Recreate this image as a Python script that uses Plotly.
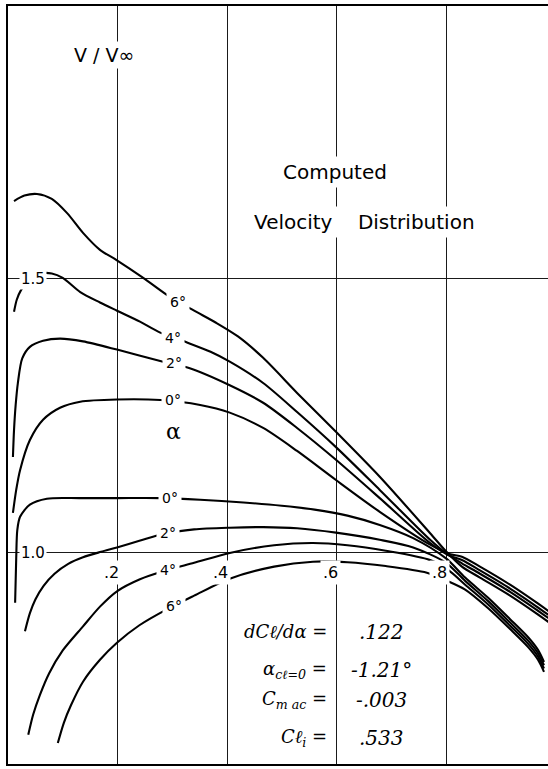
import plotly.graph_objects as go

# ---- data ----
# upper-surface curves, alpha = 6, 4, 2, 0 deg
x_up6 = [0.011,0.030,0.053,0.080,0.108,0.137,0.168,0.199,0.247,0.296,0.340,0.380,0.420,0.466,0.528,0.599,0.679,0.771,0.800,0.829,0.862,0.917,0.963,1.008]
v_up6 = [1.642,1.652,1.655,1.646,1.620,1.584,1.553,1.534,1.502,1.467,1.442,1.420,1.395,1.356,1.292,1.221,1.139,1.036,1.003,0.975,0.955,0.922,0.891,0.859]

x_up4 = [0.011,0.016,0.024,0.040,0.060,0.080,0.100,0.132,0.168,0.199,0.241,0.278,0.327,0.370,0.405,0.466,0.528,0.599,0.679,0.771,0.802,0.829,0.862,0.917,0.963,1.008]
v_up4 = [1.440,1.462,1.480,1.500,1.510,1.510,1.502,1.476,1.457,1.442,1.422,1.402,1.384,1.367,1.349,1.310,1.257,1.193,1.115,1.024,0.998,0.981,0.962,0.929,0.898,0.866]

x_up2 = [0.009,0.011,0.014,0.018,0.026,0.040,0.064,0.095,0.137,0.199,0.278,0.332,0.405,0.466,0.528,0.599,0.679,0.771,0.804,0.829,0.862,0.917,0.963,1.008]
v_up2 = [1.175,1.224,1.270,1.310,1.355,1.376,1.387,1.391,1.386,1.371,1.350,1.337,1.306,1.274,1.228,1.170,1.100,1.018,0.996,0.987,0.968,0.935,0.904,0.872]

x_up0 = [0.009,0.015,0.022,0.040,0.064,0.095,0.132,0.199,0.278,0.351,0.405,0.466,0.528,0.599,0.679,0.771,0.806,0.829,0.862,0.917,0.963,1.008]
v_up0 = [1.073,1.115,1.151,1.206,1.243,1.265,1.276,1.280,1.279,1.270,1.256,1.228,1.186,1.133,1.075,1.015,0.998,0.993,0.975,0.942,0.911,0.879]

# lower-surface curves, alpha = 0, 2, 4, 6 deg
x_lo0 = [0.013,0.015,0.017,0.022,0.040,0.071,0.132,0.199,0.278,0.351,0.430,0.500,0.560,0.620,0.679,0.740,0.800,0.835,0.877,0.917,0.950,0.968,0.979]
v_lo0 = [0.909,0.990,1.042,1.066,1.088,1.099,1.100,1.100,1.100,1.097,1.092,1.086,1.079,1.068,1.051,1.027,0.990,0.955,0.918,0.879,0.846,0.823,0.801]

x_lo2 = [0.031,0.040,0.050,0.065,0.085,0.110,0.137,0.170,0.199,0.240,0.285,0.340,0.405,0.466,0.528,0.599,0.679,0.740,0.800,0.835,0.877,0.917,0.950,0.968,0.979]
v_lo2 = [0.857,0.890,0.915,0.940,0.962,0.980,0.992,1.002,1.010,1.022,1.035,1.043,1.046,1.047,1.045,1.037,1.024,1.010,0.982,0.949,0.912,0.873,0.840,0.817,0.795]

x_lo4 = [0.037,0.046,0.058,0.075,0.100,0.137,0.168,0.199,0.241,0.285,0.340,0.405,0.486,0.557,0.620,0.690,0.771,0.805,0.835,0.877,0.917,0.950,0.968,0.979]
v_lo4 = [0.668,0.705,0.740,0.780,0.822,0.866,0.902,0.930,0.952,0.967,0.982,1.000,1.014,1.018,1.014,1.004,0.987,0.968,0.942,0.906,0.867,0.834,0.811,0.789]

x_lo6 = [0.091,0.102,0.115,0.137,0.168,0.199,0.240,0.290,0.340,0.405,0.486,0.557,0.620,0.690,0.765,0.800,0.835,0.877,0.917,0.950,0.968,0.979]
v_lo6 = [0.653,0.690,0.722,0.765,0.805,0.836,0.868,0.897,0.922,0.953,0.975,0.984,0.983,0.976,0.964,0.950,0.933,0.899,0.861,0.828,0.805,0.783]

curves = [(x_up6, v_up6), (x_up4, v_up4), (x_up2, v_up2), (x_up0, v_up0),
          (x_lo0, v_lo0), (x_lo2, v_lo2), (x_lo4, v_lo4), (x_lo6, v_lo6)]

# curve labels (text, x, v)
label_text = ["6°", "4°", "2°", "0°", "α", "0°", "2°", "4°", "6°"]
label_x = [0.31, 0.302, 0.303, 0.302, 0.303, 0.295, 0.292, 0.292, 0.303]
label_v = [1.458, 1.393, 1.346, 1.279, 1.222, 1.100, 1.036, 0.969, 0.904]

x_ticks = [0.2, 0.4, 0.6, 0.8]
x_tick_text = [".2", ".4", ".6", ".8"]
y_ticks = [1.0, 1.5]
y_tick_text = ["1.0", "1.5"]

coef_names = ["dCℓ/dα =", "α<sub>cℓ=0</sub> =", "C<sub>m ac</sub> =", "Cℓ<sub>i</sub> ="]
coef_values = [".122", "-1.21°", "-.003", ".533"]
coef_v = [0.856, 0.787, 0.732, 0.662]

fig = go.Figure()
for xs, vs in curves:
    fig.add_trace(go.Scatter(x=xs, y=vs, mode="lines",
                             line=dict(color="black", width=2.1, shape="spline", smoothing=0.8),
                             hoverinfo="skip", showlegend=False))

ann = []
font_main = "DejaVu Sans"
for t, x, v in zip(label_text, label_x, label_v):
    is_alpha = (t == "α")
    ann.append(dict(x=x, y=v, xref="x", yref="y", text=t, showarrow=False,
                    font=dict(family="DejaVu Serif" if is_alpha else font_main,
                              size=22 if is_alpha else 14, color="black"),
                    bgcolor="rgba(0,0,0,0)" if is_alpha else "white", borderpad=3))

for tv, tt in zip(x_ticks, x_tick_text):
    ann.append(dict(x=tv - 0.011, y=0.9635, xref="x", yref="y", text=tt, showarrow=False,
                    font=dict(family=font_main, size=16, color="black"),
                    bgcolor="white", borderpad=2))
for tv, tt in zip(y_ticks, y_tick_text):
    ann.append(dict(x=0.045, y=tv, xref="x", yref="y", text=tt, showarrow=False,
                    font=dict(family=font_main, size=15, color="black"),
                    bgcolor="white", borderpad=1))

ann.append(dict(x=0.175, y=1.909, xref="x", yref="y", text="V / V∞", showarrow=False,
                font=dict(family=font_main, size=19, color="black"), bgcolor="white", borderpad=2))
ann.append(dict(x=0.597, y=1.695, xref="x", yref="y", text="Computed", showarrow=False,
                font=dict(family=font_main, size=20, color="black"), bgcolor="white", borderpad=3))
ann.append(dict(x=0.651, y=1.604, xref="x", yref="y",
                text="Velocity\u00a0\u00a0\u00a0\u00a0Distribution", showarrow=False,
                font=dict(family=font_main, size=20, color="black"), bgcolor="white", borderpad=3))

for nm, val, v in zip(coef_names, coef_values, coef_v):
    ann.append(dict(x=0.586, y=v, xref="x", yref="y", text="<i>" + nm + "</i>", showarrow=False,
                    xanchor="right", font=dict(family="DejaVu Serif", size=18, color="black")))
    ann.append(dict(x=0.682, y=v, xref="x", yref="y", text="<i>" + val + "</i>", showarrow=False,
                    xanchor="center", font=dict(family="DejaVu Serif", size=20, color="black")))

fig.update_layout(
    width=548, height=769, autosize=False,
    margin=dict(l=8, r=0, t=6, b=5, pad=0),
    paper_bgcolor="white", plot_bgcolor="white",
    annotations=ann,
    xaxis=dict(range=[0, 0.9863], tickvals=x_ticks, showticklabels=False, ticks="",
               showgrid=True, gridcolor="#1a1a1a", gridwidth=1.2, zeroline=False,
               showline=True, linecolor="black", linewidth=1.6, mirror=True),
    yaxis=dict(range=[0.6148, 1.998], tickvals=y_ticks, showticklabels=False, ticks="",
               showgrid=True, gridcolor="#1a1a1a", gridwidth=1.2, zeroline=False,
               showline=True, linecolor="black", linewidth=1.6, mirror=False),
)

fig.write_html("out.html")
